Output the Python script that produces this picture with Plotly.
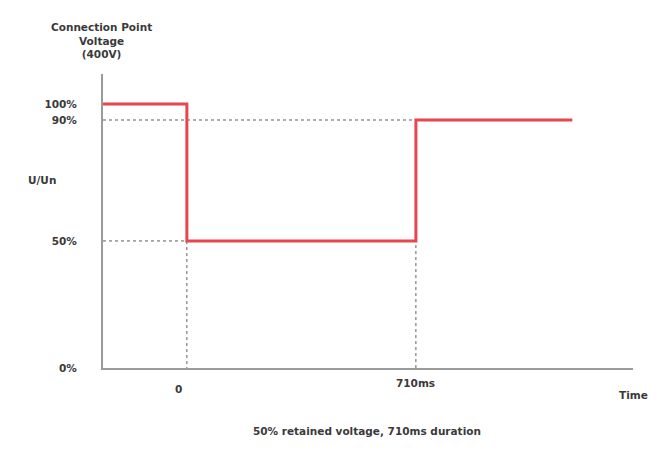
import plotly.graph_objects as go

# Voltage dip profile (time in ms, level in % of nominal)
step_times = [-260, 0, 710, 1195]
step_levels = [100, 50, 90, 90]

# reference levels and event times
dip_level = 50
recover_level = 90
dip_start = 0
dip_end = 710

y_tick_levels = [100, 90, 50, 0]
y_tick_labels = ['100%', '90%', '50%', '0%']

# the sketch is not to scale: where each level sits on the drawn axis
axis_pos = {0: 0, 50: 50, 90: 97.6, 100: 103.9}

x_min, x_max = -260, 1383
y_max = 115.7

FONT = dict(family='DejaVu Sans', size=10.5, color='#3a3a3a')
DASH = dict(color='#5e5e5e', width=1, dash='3px,3px')

fig = go.Figure()

# guide lines (dashed)
fig.add_trace(go.Scatter(
    x=[x_min, dip_end, dip_end], y=[axis_pos[recover_level], axis_pos[recover_level], 0],
    mode='lines', line=DASH, hoverinfo='skip'))
fig.add_trace(go.Scatter(
    x=[x_min, dip_start, dip_start], y=[axis_pos[dip_level], axis_pos[dip_level], 0],
    mode='lines', line=DASH, hoverinfo='skip'))

# voltage profile
fig.add_trace(go.Scatter(
    x=step_times, y=[axis_pos[v] for v in step_levels],
    mode='lines', line=dict(color='#e8464f', width=3, shape='hv')))

# axis labels / captions
fig.add_annotation(xref='paper', yref='paper', x=(101 - 103) / 530, y=1 + (74 - 40) / 294,
                   text='<b>Connection Point<br>Voltage<br>(400V)</b>',
                   showarrow=False, font=FONT, align='center', xanchor='center', yanchor='middle')
fig.add_annotation(x=dip_start, y=0, yshift=-21, xshift=-8, text='<b>0</b>', showarrow=False, font=FONT)
fig.add_annotation(x=dip_end, y=0, yshift=-15, text='<b>710ms</b>', showarrow=False, font=FONT)
fig.add_annotation(x=x_max, y=0, yshift=-27, text='<b>Time</b>', showarrow=False, font=FONT)
fig.add_annotation(xref='paper', x=(367 - 103) / 530, y=0, yshift=-63,
                   text='<b>50% retained voltage, 710ms duration</b>', showarrow=False, font=FONT)
fig.add_annotation(x=x_min, y=75, xshift=-61, yshift=-3, text='<b>U/Un</b>', showarrow=False, font=FONT)

# page body adds an 8px offset, so margins are trimmed to keep the plot area in place
fig.update_layout(
    width=671, height=453,
    margin=dict(l=95, r=46, t=66, b=93),
    plot_bgcolor='white', paper_bgcolor='white',
    showlegend=False,
    xaxis=dict(range=[x_min, x_max], showgrid=False, zeroline=False, showticklabels=False,
               showline=True, linecolor='#9a9a9a', linewidth=2, fixedrange=True, automargin=False),
    yaxis=dict(range=[0, y_max], showgrid=False, zeroline=False,
               tickvals=[axis_pos[v] for v in y_tick_levels], ticktext=['<b>%s</b>' % t for t in y_tick_labels],
               tickfont=FONT, ticklabelstandoff=22, automargin=False,
               showline=True, linecolor='#9a9a9a', linewidth=2, fixedrange=True),
)

fig.write_html('out.html')
